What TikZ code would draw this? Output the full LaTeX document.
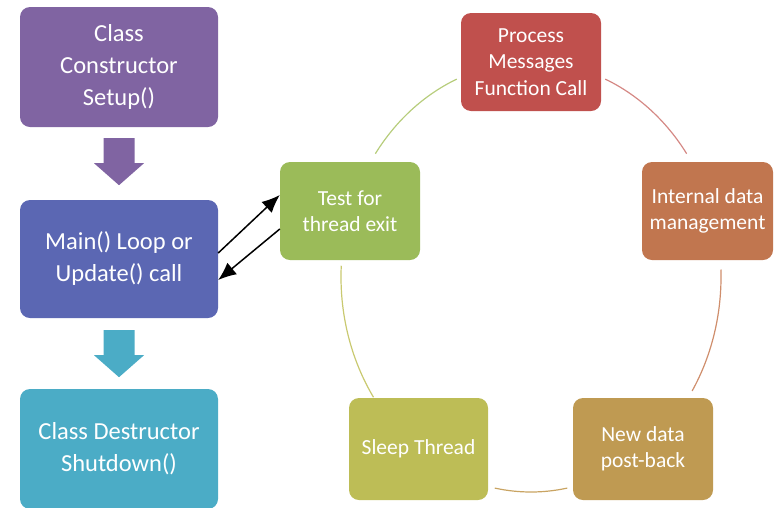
\documentclass[tikz,border=0pt]{standalone}
\usepackage{fontspec}
\setmainfont{Carlito}
\usetikzlibrary{arrows.meta,calc}

\definecolor{cViolet}{HTML}{8064A2}
\definecolor{cIndigo}{HTML}{5B67B3}
\definecolor{cAqua}{HTML}{4BACC6}
\definecolor{cRed}{HTML}{C0504D}
\definecolor{cRust}{HTML}{C1764F}
\definecolor{cTan}{HTML}{BF9A52}
\definecolor{cOlive}{HTML}{BDBD56}
\definecolor{cGreen}{HTML}{9BBB59}
\definecolor{lnRed}{HTML}{D58985}
\definecolor{lnRust}{HTML}{CF8E6C}
\definecolor{lnTan}{HTML}{C9A463}
\definecolor{lnOlive}{HTML}{C9C970}
\definecolor{lnGreen}{HTML}{B7CD7C}

\tikzset{
  bigbox/.style={rounded corners=10pt, minimum width=198pt, minimum height=120pt,
    text=white, align=center, font=\fontsize{24.5}{32}\selectfont, inner sep=0pt},
  cyclebox/.style={rounded corners=10pt, minimum width=140pt, minimum height=98pt,
    text=white, align=center, font=\fontsize{21.5}{26.5}\selectfont, inner sep=0pt},
  downarrow/.pic={\fill (-15.5,0) -- (15.5,0) -- (15.5,-25) -- (25,-25) -- (0,-47)
    -- (-25,-25) -- (-15.5,-25) -- cycle;},
  ring/.style={line width=1.2pt},
  link/.style={line width=1.5pt, -{Latex[length=18pt,width=15pt]}}
}

\begin{document}
\begin{tikzpicture}[x=1pt,y=1pt]
\useasboundingbox (0,0) rectangle (775,-507);

% lifecycle column
\node[bigbox, fill=cViolet] (setup) at (119,-67) {Class\\Constructor\\Setup()};
\node[bigbox, fill=cIndigo, minimum height=118pt] (main) at (119,-259) {Main() Loop or\\Update() call};
\node[bigbox, fill=cAqua] (shut) at (119,-449) {Class Destructor\\Shutdown()};

\pic[fill=cViolet] at ($(setup.south)+(0,-11)$) {downarrow};
\pic[fill=cAqua] at ($(main.south)+(0,-12)$) {downarrow};

% thread cycle
\coordinate (ctr) at (531,-277);
\node[cyclebox, fill=cRed] (pm) at (531,-62) {Process\\Messages\\Function Call};
\node[cyclebox, fill=cRust, minimum width=131pt] (id) at (707.5,-211) {Internal data\\management};
\node[cyclebox, fill=cTan, minimum height=102pt] (new) at (643,-449) {New data\\post-back};
\node[cyclebox, fill=cOlive, minimum width=139pt, minimum height=102pt] (sleep) at (418.5,-449) {Sleep Thread};
\node[cyclebox, fill=cGreen] (test) at (350,-211) {Test for\\thread exit};

\draw[ring, lnRed]   ($(ctr)+(67:190 and 215)$)   arc[start angle=67,   end angle=35,   x radius=190, y radius=215];
\draw[ring, lnRust]  ($(ctr)+(2:190 and 215)$)    arc[start angle=2,    end angle=-32,  x radius=190, y radius=215];
\draw[ring, lnTan]   ($(ctr)+(-79:190 and 215)$)  arc[start angle=-79,  end angle=-101, x radius=190, y radius=215];
\draw[ring, lnOlive] ($(ctr)+(-146:190 and 215)$) arc[start angle=-146, end angle=-183, x radius=190, y radius=215];
\draw[ring, lnGreen] ($(ctr)+(145:190 and 215)$)  arc[start angle=145,  end angle=113,  x radius=190, y radius=215];

% hand-off between the main loop and the exit test
\draw[link] ([yshift=6pt]main.east) -- ([yshift=16pt]test.west);
\draw[link] ([yshift=-18pt]test.west) -- ([yshift=-21pt]main.east);
\end{tikzpicture}
\end{document}
